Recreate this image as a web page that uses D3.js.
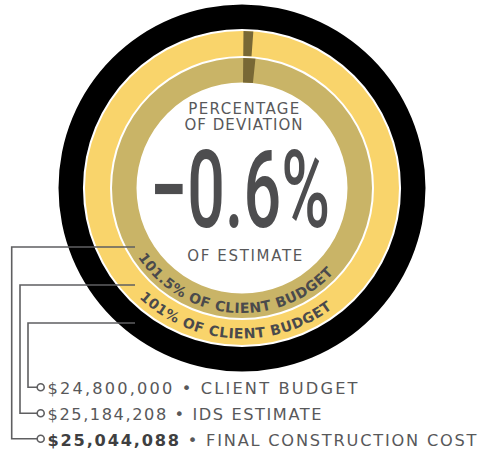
<!DOCTYPE html>
<html><head><meta charset="utf-8">
<script src="https://cdn.jsdelivr.net/npm/d3@7"></script>
<style>body{margin:0;background:#fff} svg{display:block}</style>
</head><body>
<script>
// ---- data ----
const costLabels = ["CLIENT BUDGET", "IDS ESTIMATE", "FINAL CONSTRUCTION COST"];
const costValues = [24800000, 25184208, 25044088];
const ringNames = ["101% OF CLIENT BUDGET", "101.5% OF CLIENT BUDGET"];
const ringPercents = [101, 101.5];
const deviationTitle = ["PERCENTAGE", "OF DEVIATION"];
const deviationValue = -0.6;
const deviationSub = "OF ESTIMATE";

// ---- layout ----
const W = 479, H = 451, cx = 242, cy = 188;
const FONT = "'DejaVu Sans', 'Open Sans', sans-serif";
const TXT = "#58585a";
const svg = d3.select("body").append("svg").attr("width", W).attr("height", H);
const g = svg.append("g").attr("transform", `translate(${cx},${cy})`);
const arc = d3.arc();
const angle = d3.scaleLinear().domain([0, 100]).range([0, 2 * Math.PI]);

function fit(sel, target) {
  const node = sel.node();
  const len = node.getComputedTextLength();
  const n = node.textContent.length;
  sel.attr("letter-spacing", (target - len) / Math.max(1, n - 1));
}

// outer black ring
g.append("path")
  .attr("d", arc({innerRadius: 159, outerRadius: 183.5, startAngle: 0, endAngle: 2 * Math.PI}))
  .attr("fill", "#000");

const ringSpec = [
  {inner: 132, outer: 157, color: "#F9D46B", textR: 150.5, center: -3, span: 210},
  {inner: 105.5, outer: 130, color: "#C9B467", textR: 125, center: -4.5, span: 226}
];

ringSpec.forEach((r, i) => {
  g.append("path")
    .attr("d", arc({innerRadius: r.inner, outerRadius: r.outer, startAngle: 0, endAngle: 2 * Math.PI}))
    .attr("fill", r.color);
  const excess = ringPercents[i] - 100;
  g.append("path")
    .attr("d", arc({innerRadius: r.inner, outerRadius: r.outer,
                    startAngle: angle(0.15), endAngle: angle(0.15 + excess)}))
    .attr("fill", "#786835");
});

// curved texts
function bottomArcPath(r, cDeg) {
  const a0 = (cDeg - 90) * Math.PI / 180, a1 = (cDeg + 90) * Math.PI / 180;
  const x0 = r * Math.sin(a0), y0 = r * Math.cos(a0);
  const x1 = r * Math.sin(a1), y1 = r * Math.cos(a1);
  return `M${x0},${y0} A${r},${r} 0 0 0 ${x1},${y1}`;
}
const defs = svg.append("defs");
ringSpec.forEach((r, i) => {
  defs.append("path").attr("id", "tp" + i)
    .attr("d", bottomArcPath(r.textR, r.center))
    .attr("transform", `translate(${cx},${cy})`);
  const t = svg.append("text")
    .attr("font-family", FONT).attr("font-size", 14).attr("font-weight", 700)
    .attr("fill", "#4a4a4c");
  const tp = t.append("textPath").attr("href", "#tp" + i)
    .attr("startOffset", "50%").attr("text-anchor", "middle")
    .text(ringNames[i]);
  const len = tp.node().getComputedTextLength();
  const n = ringNames[i].length;
  t.attr("letter-spacing", (r.span - len) / (n - 1));
});

// center text
const c = svg.append("g").attr("font-family", FONT).attr("fill", TXT).attr("text-anchor", "middle");
const t1 = c.append("text").attr("x", 244.5).attr("y", 114).attr("font-size", 15).text(deviationTitle[0]);
fit(t1, 111);
const t2 = c.append("text").attr("x", 244).attr("y", 130).attr("font-size", 15).text(deviationTitle[1]);
fit(t2, 118);
const big = c.append("text").attr("x", 240).attr("y", 227).attr("font-size", 108)
  .attr("font-family", "Roboto, sans-serif").attr("font-weight", 500).attr("fill", "#4d4d4f")
  .attr("textLength", 180).attr("lengthAdjust", "spacingAndGlyphs")
  .text(d3.format(".1f")(deviationValue) + "%");
const t3 = c.append("text").attr("x", 245.5).attr("y", 261).attr("font-size", 15).text(deviationSub);
fit(t3, 115);

// leader lines & labels
const lineY = [323, 285, 247];
const lineX = [28, 20, 11.7];
const labelY = [387.3, 413.3, 438.7];
const labelW = [310, 274, 429];
const fmt = d3.format("$,");
const lines = svg.append("g").attr("fill", "none").attr("stroke", "#5f5f61").attr("stroke-width", 1.6);
costLabels.forEach((lab, i) => {
  lines.append("path")
    .attr("d", `M135,${lineY[i]} H${lineX[i]} V${labelY[i]} H37`);
  lines.append("circle").attr("cx", 40.7).attr("cy", labelY[i]).attr("r", 3.5).attr("fill", "#fff");
  const bold = i === 2;
  const t = svg.append("text").attr("x", 47.5).attr("y", labelY[i] + 6.8)
    .attr("font-family", FONT).attr("font-size", 16.2).attr("fill", TXT);
  t.append("tspan").attr("font-weight", bold ? 700 : 400).attr("fill", bold ? "#3f3f41" : TXT)
    .text(fmt(costValues[i]));
  t.append("tspan").text(" \u2022 " + lab);
  const len = t.node().getComputedTextLength();
  const n = t.node().textContent.length;
  t.attr("letter-spacing", (labelW[i] - len) / (n - 1));
});
</script>
</body></html>
